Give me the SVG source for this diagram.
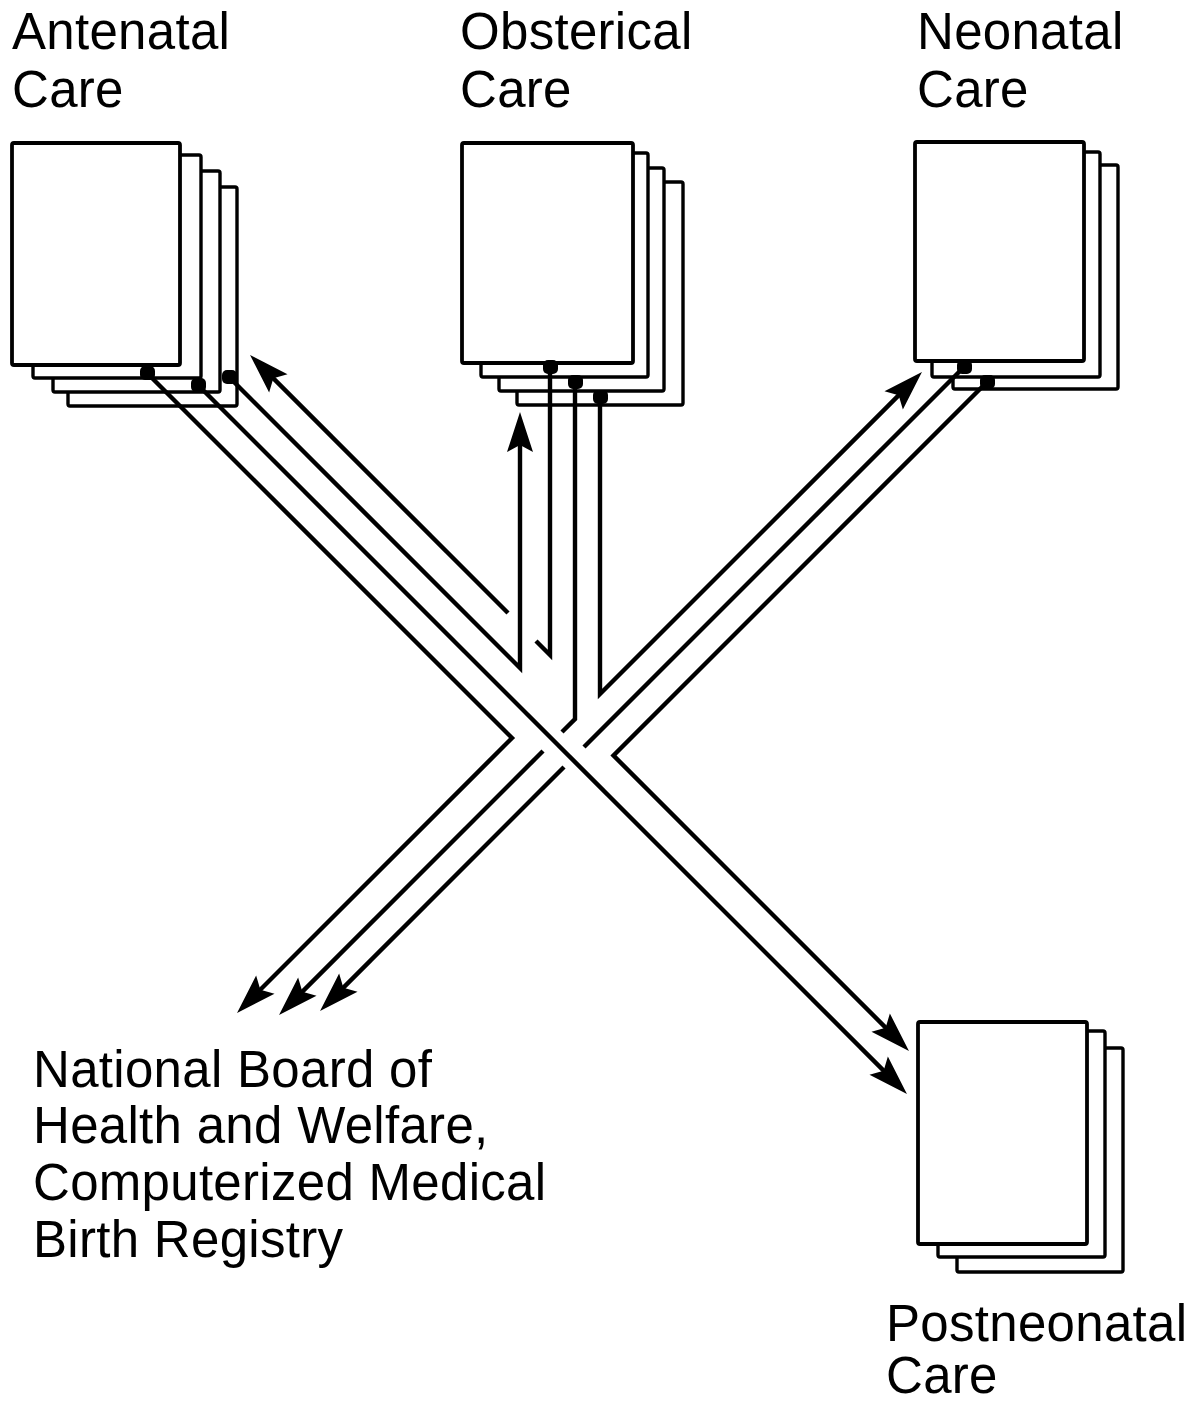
<svg xmlns="http://www.w3.org/2000/svg" width="1189" height="1404" viewBox="0 0 1189 1404">
<style>
.pg{fill:#fff;stroke:#000;stroke-width:3.4;stroke-linejoin:round}
.pf{fill:#fff;stroke:#000;stroke-width:3.8;stroke-linejoin:round}
.dot{fill:#000}
.ln{fill:none;stroke:#000;stroke-width:4.4;stroke-linejoin:miter;stroke-miterlimit:6;stroke-linecap:butt}
.lbl{font-family:"Liberation Sans",Arial,Helvetica,sans-serif;font-size:51px;fill:#000;letter-spacing:0.3px}
</style>
<defs>
<marker id="ah" markerUnits="userSpaceOnUse" orient="auto" refX="0" refY="0" markerWidth="1" markerHeight="1" overflow="visible">
<path d="M9,0 L-31,-13 L-24,0 L-31,13 Z" fill="#000"/>
</marker>
</defs>
<rect width="1189" height="1404" fill="#fff"/>

<g id="antenatal">
<rect class="pg" x="68" y="187" width="169" height="219" rx="2"/>
<rect class="pg" x="53" y="171" width="167" height="221" rx="2"/>
<rect class="pg" x="33" y="155" width="168" height="223" rx="2"/>
<rect class="pf" x="12" y="143" width="168" height="222" rx="2"/>
<text class="lbl" x="12" y="49">Antenatal</text>
<text class="lbl" x="12" y="107">Care</text>
</g>

<g id="obsterical">
<rect class="pg" x="517" y="182" width="166" height="223" rx="2"/>
<rect class="pg" x="499" y="168" width="165" height="223" rx="2"/>
<rect class="pg" x="481" y="153" width="167" height="224" rx="2"/>
<rect class="pf" x="462" y="143" width="171" height="220" rx="2"/>
<text class="lbl" x="460" y="49">Obsterical</text>
<text class="lbl" x="460" y="107">Care</text>
</g>

<g id="neonatal">
<rect class="pg" x="953" y="165" width="165" height="224" rx="2"/>
<rect class="pg" x="932" y="152" width="168" height="225" rx="2"/>
<rect class="pf" x="915" y="142" width="169" height="219" rx="2"/>
<text class="lbl" x="917" y="49">Neonatal</text>
<text class="lbl" x="917" y="107">Care</text>
</g>

<g id="postneonatal">
<rect class="pg" x="957" y="1048" width="166" height="224" rx="2"/>
<rect class="pg" x="938" y="1031" width="167" height="226" rx="2"/>
<rect class="pf" x="918" y="1022" width="169" height="222" rx="2"/>
<text class="lbl" x="886" y="1341">Postneonatal</text>
<text class="lbl" x="886" y="1393">Care</text>
</g>

<g id="national-board">
<text class="lbl" x="33" y="1087">National Board of</text>
<text class="lbl" x="33" y="1143">Health and Welfare,</text>
<text class="lbl" x="33" y="1200">Computerized Medical</text>
<text class="lbl" x="33" y="1257">Birth Registry</text>
</g>

<g id="connectors">
<!-- Antenatal -> Obsterical -->
<path class="ln" d="M229,377 L520,668 L520,421" marker-end="url(#ah)"/>
<!-- Obsterical -> Antenatal (broken where it crosses) -->
<path class="ln" d="M550,367 L550,655 L536,641"/>
<path class="ln" d="M508,613 L256.4,361.4" marker-end="url(#ah)"/>
<!-- Obsterical -> Neonatal -->
<path class="ln" d="M600,397 L600,694 L915.6,378.4" marker-end="url(#ah)"/>
<!-- Obsterical -> National Board -->
<path class="ln" d="M575,382 L575,719 L562,732"/>
<path class="ln" d="M543,751 L285.4,1008.6" marker-end="url(#ah)"/>
<!-- Neonatal -> National Board -->
<path class="ln" d="M964,367 L584,747"/>
<path class="ln" d="M564,767 L326.4,1004.6" marker-end="url(#ah)"/>
<!-- Neonatal -> Postneonatal -->
<path class="ln" d="M987,382 L613.5,755.5 L902.6,1044.6" marker-end="url(#ah)"/>
<!-- Antenatal -> National Board -->
<path class="ln" d="M147,373 L512,738 L243.4,1006.6" marker-end="url(#ah)"/>
<!-- Antenatal -> Postneonatal -->
<path class="ln" d="M198,385 L900.6,1087.6" marker-end="url(#ah)"/>
</g>

<g id="dots">
<rect class="dot" x="140" y="366" width="15" height="14" rx="5"/>
<rect class="dot" x="191" y="378" width="15" height="14" rx="5"/>
<rect class="dot" x="222" y="370" width="15" height="14" rx="5"/>
<rect class="dot" x="543" y="360" width="15" height="14" rx="5"/>
<rect class="dot" x="568" y="375" width="15" height="14" rx="5"/>
<rect class="dot" x="593" y="390" width="15" height="14" rx="5"/>
<rect class="dot" x="957" y="360" width="15" height="14" rx="5"/>
<rect class="dot" x="980" y="375" width="15" height="14" rx="5"/>
</g>
</svg>
